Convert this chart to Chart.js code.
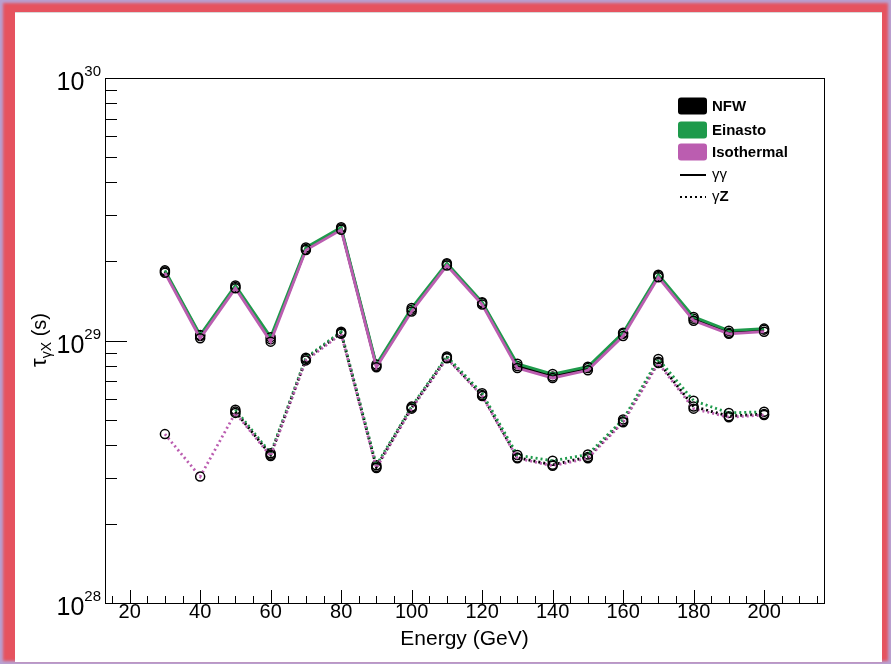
<!DOCTYPE html>
<html>
<head>
<meta charset="utf-8">
<script src="https://cdn.jsdelivr.net/npm/chart.js@4"></script>
<style>
  html, body { margin: 0; padding: 0; background: #fff; }
  #frame { position: absolute; left: 0; top: 0; width: 891px; height: 664px; background: #e6535f;
           box-shadow: inset 0 0 3px 3px rgba(175, 175, 230, 0.85); }
  #paper { position: absolute; left: 15px; top: 12px; width: 867px; height: 650px; background: #fff;
           border-top: 1px solid #d8d8d8; box-sizing: border-box; }
  #tauChart { position: absolute; left: 0; top: 0; }
</style>
</head>
<body>
<div id="frame"></div>
<div id="paper"></div>
<canvas id="tauChart" width="891" height="664"></canvas>
<script>
// Energien (GeV)
const energies = [30, 40, 50, 60, 70, 80, 90, 100, 110, 120, 130, 140, 150, 160, 170, 180, 190, 200];

// tau fuer gamma-gamma Kanal (s)
const nfwGG = [1.83e29, 1.04e29, 1.60e29, 1.01e29, 2.23e29, 2.67e29, 8.0e28, 1.31e29, 1.95e29, 1.39e29, 8.0e28, 7.3e28, 7.85e28, 1.06e29, 1.76e29, 1.21e29, 1.07e29, 1.10e29];
const einastoGG = [1.85e29, 1.05e29, 1.62e29, 1.03e29, 2.26e29, 2.70e29, 8.1e28, 1.33e29, 1.97e29, 1.40e29, 8.15e28, 7.45e28, 7.95e28, 1.07e29, 1.78e29, 1.23e29, 1.09e29, 1.11e29];
const isoGG = [1.81e29, 1.02e29, 1.58e29, 0.99e29, 2.21e29, 2.64e29, 7.9e28, 1.29e29, 1.93e29, 1.37e29, 7.85e28, 7.2e28, 7.7e28, 1.04e29, 1.74e29, 1.19e29, 1.06e29, 1.08e29];

// tau fuer gamma-Z Kanal (s)
const nfwGZ = [null, null, 5.36e28, 3.67e28, 8.5e28, 1.07e29, 3.30e28, 5.55e28, 8.6e28, 6.2e28, 3.58e28, 3.36e28, 3.6e28, 4.93e28, 8.3e28, 5.6e28, 5.15e28, 5.25e28];
const einastoGZ = [null, null, 5.45e28, 3.72e28, 8.6e28, 1.08e29, 3.35e28, 5.6e28, 8.7e28, 6.3e28, 3.66e28, 3.48e28, 3.68e28, 5.0e28, 8.5e28, 5.9e28, 5.3e28, 5.35e28];
const isoGZ = [4.40e28, 3.03e28, 5.30e28, 3.63e28, 8.4e28, 1.06e29, 3.27e28, 5.5e28, 8.55e28, 6.15e28, 3.56e28, 3.33e28, 3.56e28, 4.88e28, 8.2e28, 5.5e28, 5.1e28, 5.2e28];

const profileNames = ['NFW', 'Einasto', 'Isothermal'];
const profileColors = ['#000000', '#1e9a4b', '#bb5db0'];
const channelNames = ['γγ', 'γZ'];

const xMin = 13, xMax = 217;
const yMin = 1e28, yMax = 1e30;
const yDecades = [28, 29, 30];
const xLabelTicks = [20, 40, 60, 80, 100, 120, 140, 160, 180, 200];

const mkSet = (label, values, color, dashed) => ({
    label: label,
    data: energies.map((e, i) => ({ x: e, y: values[i] })),
    borderColor: color,
    borderWidth: 2.8,
    borderDash: dashed ? [2, 3] : [],
    pointStyle: 'circle',
    pointRadius: 4.5,
    pointBorderWidth: 1.5,
    pointBorderColor: '#000',
    pointBackgroundColor: 'rgba(0,0,0,0)',
    fill: false,
    tension: 0
});

// ROOT-artiger Rahmen, Ticks und Beschriftung
const rootFrame = {
    id: 'rootFrame',
    afterDraw(chart) {
        const c = chart.ctx;
        const a = chart.chartArea;
        const xs = chart.scales.x, ys = chart.scales.y;
        c.save();
        c.strokeStyle = '#000';
        c.lineWidth = 1;
        c.strokeRect(a.left + 0.5, a.top + 0.5, a.right - a.left, a.bottom - a.top);

        // y ticks (log)
        c.beginPath();
        for (let d = 28; d < 30; d++) {
            for (let m = 1; m <= 9; m++) {
                const v = m * Math.pow(10, d);
                const py = Math.round(ys.getPixelForValue(v)) + 0.5;
                const len = m === 1 ? (d === 28 ? 0 : 22) : 12;
                c.moveTo(a.left, py);
                c.lineTo(a.left + len, py);
            }
        }
        // x ticks
        for (let v = 15; v <= xMax; v += 5) {
            const px = Math.round(xs.getPixelForValue(v)) + 0.5;
            const len = v % 20 === 0 ? 13 : 7;
            c.moveTo(px, a.bottom);
            c.lineTo(px, a.bottom - len);
        }
        c.stroke();

        // y labels 10^n
        c.fillStyle = '#000';
        yDecades.forEach(d => {
            const py = ys.getPixelForValue(Math.pow(10, d));
            c.font = '15px "Liberation Sans", Arial, sans-serif';
            const sup = String(d);
            const sw = c.measureText(sup).width;
            c.textAlign = 'right';
            c.textBaseline = 'alphabetic';
            c.fillText(sup, 101, py - 2);
            c.font = '25px "Liberation Sans", Arial, sans-serif';
            c.fillText('10', 101 - sw, py + 12);
        });

        // y title
        c.translate(39, 340);
        c.rotate(-Math.PI / 2);
        c.textBaseline = 'alphabetic';
        c.textAlign = 'left';
        c.font = '22px "Liberation Sans", Arial, sans-serif';
        const w1 = c.measureText('τ').width;
        c.font = '14px "Liberation Sans", Arial, sans-serif';
        const w2 = c.measureText('γX').width;
        c.font = '20px "Liberation Sans", Arial, sans-serif';
        const w3 = c.measureText(' (s)').width;
        let x0 = -(w1 + w2 + w3) / 2;
        c.font = '22px "Liberation Sans", Arial, sans-serif';
        c.fillText('τ', x0, 7);
        c.font = '14px "Liberation Sans", Arial, sans-serif';
        c.fillText('γX', x0 + w1, 12);
        c.font = '20px "Liberation Sans", Arial, sans-serif';
        c.fillText(' (s)', x0 + w1 + w2, 7);
        c.restore();
    }
};

// Legende oben rechts
const rootLegend = {
    id: 'rootLegend',
    afterDraw(chart) {
        const c = chart.ctx;
        c.save();
        const bx = 678, tx = 712;
        const rowY = [106, 130, 152, 175, 197];
        c.textBaseline = 'middle';
        c.textAlign = 'left';
        profileNames.forEach((name, i) => {
            c.fillStyle = profileColors[i];
            c.beginPath();
            c.roundRect(bx, rowY[i] - 8.5, 29, 17, 3);
            c.fill();
            c.fillStyle = '#000';
            c.font = 'bold 15px "Liberation Sans", Arial, sans-serif';
            c.fillText(name, tx, rowY[i] + 1);
        });
        c.strokeStyle = '#000';
        c.lineWidth = 2;
        c.beginPath();
        c.moveTo(680, rowY[3]);
        c.lineTo(706, rowY[3]);
        c.stroke();
        c.setLineDash([2, 3]);
        c.beginPath();
        c.moveTo(680, rowY[4]);
        c.lineTo(706, rowY[4]);
        c.stroke();
        c.setLineDash([]);
        c.fillStyle = '#000';
        c.font = '15px "Liberation Sans", Arial, sans-serif';
        c.fillText(channelNames[0], tx, rowY[3]);
        c.fillText('γ', tx, rowY[4]);
        const gw = c.measureText('γ').width;
        c.font = 'bold 15px "Liberation Sans", Arial, sans-serif';
        c.fillText('Z', tx + gw, rowY[4]);
        c.restore();
    }
};

const ctx = document.getElementById('tauChart').getContext('2d');
const chart = new Chart(ctx, {
    type: 'line',
    data: {
        datasets: [
            mkSet('Isothermal γγ', isoGG, profileColors[2], false),
            mkSet('Einasto γγ', einastoGG, profileColors[1], false),
            mkSet('NFW γγ', nfwGG, profileColors[0], false),
            mkSet('Isothermal γZ', isoGZ, profileColors[2], true),
            mkSet('Einasto γZ', einastoGZ, profileColors[1], true),
            mkSet('NFW γZ', nfwGZ, profileColors[0], true)
        ]
    },
    options: {
        responsive: false,
        animation: false,
        spanGaps: false,
        layout: { padding: { left: 105, top: 78, right: 67, bottom: 2 } },
        plugins: { legend: { display: false }, tooltip: { enabled: false } },
        scales: {
            x: {
                type: 'linear',
                min: xMin,
                max: xMax,
                afterFit: (s) => { s.height = 59; },
                afterBuildTicks: (s) => { s.ticks = xLabelTicks.map(v => ({ value: v })); },
                grid: { display: false, drawTicks: false },
                border: { display: false },
                ticks: {
                    color: '#000',
                    padding: -3,
                    maxRotation: 0,
                    autoSkip: false,
                    font: { family: '"Liberation Sans Narrow", "Liberation Sans", Arial', size: 20 }
                },
                title: {
                    display: true,
                    text: 'Energy (GeV)',
                    color: '#000',
                    padding: { top: 0, bottom: 10 },
                    font: { family: '"Liberation Sans", Arial', size: 21 }
                }
            },
            y: {
                type: 'logarithmic',
                display: false,
                min: yMin,
                max: yMax
            }
        }
    },
    plugins: [rootFrame, rootLegend]
});
</script>
</body>
</html>
